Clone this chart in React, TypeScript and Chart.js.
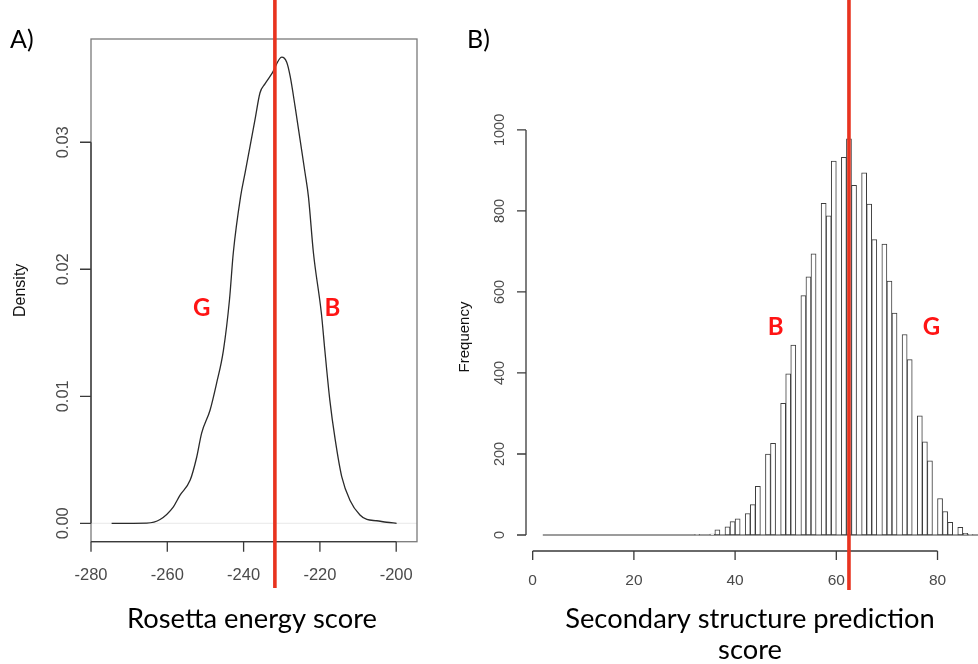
import React, { useEffect, useRef } from "react";
import { Chart, registerables } from "chart.js";

Chart.register(...registerables);

// ---------- Panel A: density of Rosetta energy score ----------
const densityX = [
  -274.6, -265.4, -261.9, -258.4, -256.7, -254.0, -252.3, -251.0, -248.8, -247.1,
  -245.3, -243.7, -242.7, -240.8, -239.6, -238.3, -237.0, -235.7, -234.4, -232.6,
  -230.0, -228.7, -227.8, -226.5, -225.2, -223.9, -223.0, -221.7, -219.6, -218.7,
  -217.4, -216.0, -214.3, -212.1, -209.5, -207.7, -205.1, -202.5, -199.9,
];
const densityY = [
  0, 0.00002, 0.0003, 0.0013, 0.0022, 0.0034, 0.0052, 0.0071, 0.0089, 0.011,
  0.0136, 0.0176, 0.0213, 0.0257, 0.0276, 0.0297, 0.0318, 0.0339, 0.0346, 0.0354,
  0.0367, 0.0363, 0.0352, 0.0328, 0.0302, 0.0276, 0.0257, 0.0213, 0.0165, 0.0136,
  0.0097, 0.0066, 0.0037, 0.0018, 0.00065, 0.0003, 0.0002, 0.00008, 0,
];
const densityXTicks = [-280, -260, -240, -220, -200];
const densityYTicks = [0, 0.01, 0.02, 0.03];
const densityYTickLabels = ["0.00", "0.01", "0.02", "0.03"];
const densityMarker = -231.8;
const densityNotes = [
  { text: "G", x: -251.0, y: 0.01695 },
  { text: "B", x: -216.7, y: 0.01695 },
];

// ---------- Panel B: histogram of secondary structure prediction score ----------
const histBins = [
  32, 35, 36, 38, 39, 40, 42, 43, 44, 46, 47, 49, 50, 51, 53, 54, 55, 57, 58, 59,
  61, 62, 63, 65, 66, 67, 69, 70, 71, 73, 74, 76, 77, 78, 80, 81, 82, 84, 85, 86,
];
const histCounts = [
  1, 2, 13, 20, 33, 40, 53, 75, 120, 200, 226, 325, 398, 469, 591, 637, 694, 819, 788, 923,
  932, 978, 863, 894, 817, 729, 718, 627, 548, 495, 433, 294, 230, 183, 90, 58, 31, 19, 4, 1,
];
const histRange = [2, 92];
const histXTicks = [0, 20, 40, 60, 80];
const histYTicks = [0, 200, 400, 600, 800, 1000];
const histMarker = 62.5;
const histNotes = [
  { text: "B", x: 48.0, y: 512 },
  { text: "G", x: 78.8, y: 512 },
];

const RED = "#e8331f";
const NOTE_RED = "#ff1414";
const TICK_FONT = "'Liberation Sans', Arial, sans-serif";
const TITLE_FONT = "Lato, 'Open Sans', sans-serif";

type PanelStyle = {
  box: boolean;
  xTicks: number[];
  yTicks: number[];
  yTickLabels: string[];
  xTickLen: number;
  yTickLen: number;
  xLabelOffset: number;
  yLabelOffset: number;
  xFont: number;
  yFont: number;
  yTitle: string;
  yTitleX: number;
  yTitleFont: number;
  panel: string;
  panelX: number;
  titleLines: string[];
  titleBaseline: number;
  titleShift: number;
  marker: number;
  markerBottom: number;
  notes: { text: string; x: number; y: number }[];
  zeroLine: boolean;
};

function makePlugin(st: PanelStyle) {
  return {
    id: "rstyle",
    beforeDatasetsDraw(chart: any) {
      if (!st.zeroLine) return;
      const { ctx, chartArea: ca, scales } = chart;
      const y0 = scales.y.getPixelForValue(0);
      ctx.save();
      ctx.strokeStyle = "#e9e9e9";
      ctx.lineWidth = 1;
      ctx.beginPath();
      ctx.moveTo(ca.left, y0);
      ctx.lineTo(ca.right, y0);
      ctx.stroke();
      ctx.restore();
    },
    afterDraw(chart: any) {
      const { ctx, chartArea: ca, scales } = chart;
      const xs = scales.x;
      const ys = scales.y;
      ctx.save();
      if (st.box) {
        ctx.strokeStyle = "#7a7a7a";
        ctx.lineWidth = 1.3;
        ctx.strokeRect(ca.left, ca.top, ca.right - ca.left, ca.bottom - ca.top);
      }
      ctx.strokeStyle = "#3a3a3a";
      ctx.fillStyle = "#4a4a4a";
      ctx.lineWidth = 1.3;
      // x axis
      const xa = xs.getPixelForValue(st.xTicks[0]);
      const xb = xs.getPixelForValue(st.xTicks[st.xTicks.length - 1]);
      ctx.beginPath();
      ctx.moveTo(xa, ca.bottom);
      ctx.lineTo(xb, ca.bottom);
      st.xTicks.forEach((t) => {
        const px = xs.getPixelForValue(t);
        ctx.moveTo(px, ca.bottom);
        ctx.lineTo(px, ca.bottom + st.xTickLen);
      });
      // y axis
      const ya = ys.getPixelForValue(st.yTicks[0]);
      const yb = ys.getPixelForValue(st.yTicks[st.yTicks.length - 1]);
      ctx.moveTo(ca.left, ya);
      ctx.lineTo(ca.left, yb);
      st.yTicks.forEach((t) => {
        const py = ys.getPixelForValue(t);
        ctx.moveTo(ca.left, py);
        ctx.lineTo(ca.left - st.yTickLen, py);
      });
      ctx.stroke();
      ctx.textAlign = "center";
      ctx.textBaseline = "middle";
      ctx.font = `${st.xFont}px ${TICK_FONT}`;
      st.xTicks.forEach((t) => {
        ctx.fillText(String(t), xs.getPixelForValue(t), ca.bottom + st.xLabelOffset);
      });
      ctx.font = `${st.yFont}px ${TICK_FONT}`;
      st.yTicks.forEach((t, i) => {
        const py = ys.getPixelForValue(t);
        ctx.save();
        ctx.translate(ca.left - st.yLabelOffset, py);
        ctx.rotate(-Math.PI / 2);
        ctx.fillText(st.yTickLabels[i], 0, 0);
        ctx.restore();
      });
      // y title
      ctx.fillStyle = "#111";
      ctx.font = `${st.yTitleFont}px ${TICK_FONT}`;
      ctx.save();
      ctx.translate(st.yTitleX, (ca.top + ca.bottom) / 2);
      ctx.rotate(-Math.PI / 2);
      ctx.fillText(st.yTitle, 0, 0);
      ctx.restore();
      // panel letter
      ctx.fillStyle = "#000";
      ctx.textAlign = "left";
      ctx.textBaseline = "alphabetic";
      ctx.font = `25px ${TITLE_FONT}`;
      ctx.fillText(st.panel, st.panelX, 48);
      // x title
      ctx.textAlign = "center";
      ctx.font = `27.3px ${TITLE_FONT}`;
      const cx = (ca.left + ca.right) / 2 + st.titleShift;
      st.titleLines.forEach((line, i) => {
        ctx.fillText(line, cx, st.titleBaseline + i * 31);
      });
      // notes
      ctx.fillStyle = NOTE_RED;
      ctx.font = `bold 24px ${TITLE_FONT}`;
      ctx.textBaseline = "middle";
      st.notes.forEach((n) => {
        ctx.fillText(n.text, xs.getPixelForValue(n.x), ys.getPixelForValue(n.y));
      });
      // marker line
      const mx = xs.getPixelForValue(st.marker);
      ctx.strokeStyle = RED;
      ctx.lineWidth = 3.6;
      ctx.beginPath();
      ctx.moveTo(mx, 0);
      ctx.lineTo(mx, st.markerBottom);
      ctx.stroke();
      ctx.restore();
    },
  };
}

export default function App() {
  const refA = useRef<HTMLCanvasElement>(null);
  const refB = useRef<HTMLCanvasElement>(null);

  useEffect(() => {
    const chartA = new Chart(refA.current as HTMLCanvasElement, {
      type: "line",
      data: {
        datasets: [
          {
            data: densityX.map((x, i) => ({ x, y: densityY[i] })),
            borderColor: "#2a2a2a",
            borderWidth: 1.3,
            pointRadius: 0,
            cubicInterpolationMode: "monotone",
            fill: false,
          },
        ],
      },
      options: {
        animation: false,
        responsive: false,
        events: [],
        layout: { padding: { left: 91, top: 39, right: 43, bottom: 122.3 } },
        plugins: { legend: { display: false }, tooltip: { enabled: false } },
        scales: {
          x: { type: "linear", min: -280, max: -194.55, display: false },
          y: { type: "linear", min: -0.00145, max: 0.03813, display: false },
        },
      },
      plugins: [
        makePlugin({
          box: true,
          xTicks: densityXTicks,
          yTicks: densityYTicks,
          yTickLabels: densityYTickLabels,
          xTickLen: 10,
          yTickLen: 11,
          xLabelOffset: 34,
          yLabelOffset: 28,
          xFont: 16.5,
          yFont: 16.5,
          yTitle: "Density",
          yTitleX: 21,
          yTitleFont: 16,
          panel: "A)",
          panelX: 10,
          titleLines: ["Rosetta energy score"],
          titleBaseline: 628,
          titleShift: -2,
          marker: densityMarker,
          markerBottom: 588,
          notes: densityNotes,
          zeroLine: true,
        }),
      ],
    } as any);

    const chartB = new Chart(refB.current as HTMLCanvasElement, {
      type: "bar",
      data: {
        datasets: [
          {
            type: "line",
            data: histRange.map((x) => ({ x, y: 0 })),
            borderColor: "#3a3a3a",
            borderWidth: 1.2,
            pointRadius: 0,
            order: 2,
          },
          {
            type: "bar",
            data: histBins.map((b, i) => ({ x: b + 0.5, y: histCounts[i] })),
            backgroundColor: "#ffffff",
            borderColor: "#3c3c3c",
            borderWidth: 1,
            borderSkipped: false,
            barPercentage: 1,
            categoryPercentage: 1,
            grouped: false,
            order: 1,
          },
        ],
      },
      options: {
        animation: false,
        responsive: false,
        events: [],
        layout: { padding: { left: 86, top: 123, right: 0, bottom: 113 } },
        plugins: { legend: { display: false }, tooltip: { enabled: false } },
        scales: {
          x: {
            type: "linear",
            min: -1.32,
            max: 88,
            offset: false,
            display: false,
            ticks: { stepSize: 20 },
          },
          y: { type: "linear", min: -39.5, max: 1017, display: false },
        },
      },
      plugins: [
        makePlugin({
          box: false,
          xTicks: histXTicks,
          yTicks: histYTicks,
          yTickLabels: histYTicks.map(String),
          xTickLen: 9,
          yTickLen: 9,
          xLabelOffset: 30,
          yLabelOffset: 26,
          xFont: 15.5,
          yFont: 14.5,
          yTitle: "Frequency",
          yTitleX: 25,
          yTitleFont: 15,
          panel: "B)",
          panelX: 27,
          titleLines: ["Secondary structure prediction", "score"],
          titleBaseline: 628,
          titleShift: -2,
          marker: histMarker,
          markerBottom: 590,
          notes: histNotes,
          zeroLine: false,
        }),
      ],
    } as any);

    return () => {
      chartA.destroy();
      chartB.destroy();
    };
  }, []);

  return (
    <div
      style={{
        position: "absolute",
        left: 0,
        top: 0,
        width: 978,
        height: 664,
        background: "#fff",
        overflow: "hidden",
      }}
    >
      <canvas
        ref={refA}
        width={460}
        height={664}
        style={{ position: "absolute", left: 0, top: 0, width: 460, height: 664 }}
      />
      <canvas
        ref={refB}
        width={538}
        height={664}
        style={{ position: "absolute", left: 440, top: 0, width: 538, height: 664 }}
      />
    </div>
  );
}
